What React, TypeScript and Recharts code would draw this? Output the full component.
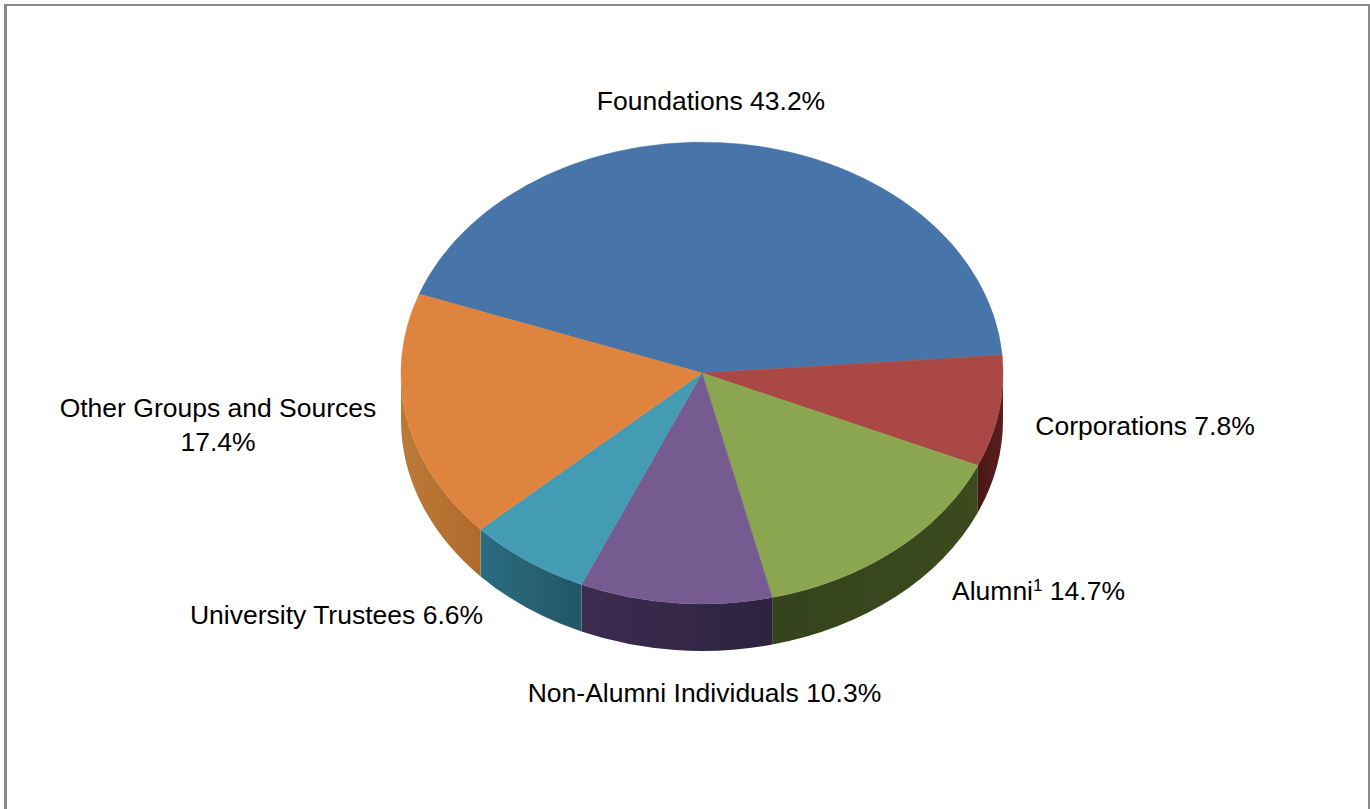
import { PieChart, Pie, Cell } from "recharts";

const sources = ["Foundations", "Corporations", "Alumni", "Non-Alumni Individuals", "University Trustees", "Other Groups and Sources"];
const shares = [43.2, 7.8, 14.7, 10.3, 6.6, 17.4];
const topColors = ["#4775A9", "#AA4845", "#8BA650", "#765B91", "#449CB4", "#DE843E"];
const wallFrom = ["#2F4D70", "#4A1616", "#34431B", "#3C2C50", "#2A6C80", "#BC7A37"];
const wallTo = ["#2F4D70", "#5A1F1D", "#3C4A1E", "#2D2340", "#235666", "#AE6A2C"];

const data = sources.map((name, i) => ({ name, share: shares[i] }));

const TILT = 0.767;
const DEPTH = 47;
const CX = 702;
const CY = 373;

// x of the text anchor, y of the first baseline, one entry per slice
const labelSpots = [
  { x: 711, y: 110 },
  { x: 1145, y: 435 },
  { x: 1038.5, y: 600 },
  { x: 704.5, y: 702 },
  { x: 336.5, y: 624 },
  { x: 218, y: 417 },
];

const rad = (deg: number) => (deg * Math.PI) / 180;

const SliceShape = (props: any) => {
  const { cx, cy, outerRadius: r, startAngle, endAngle, fill, index } = props;
  const hi = Math.max(startAngle, endAngle);
  const lo = Math.min(startAngle, endAngle);
  const pt = (a: number, dy = 0) => [cx + r * Math.cos(rad(a)), cy - r * TILT * Math.sin(rad(a)) + dy];
  const ry = r * TILT;
  const [sx, sy] = pt(hi);
  const [ex, ey] = pt(lo);
  const large = hi - lo > 180 ? 1 : 0;
  const top = `M${cx},${cy} L${sx},${sy} A${r},${ry} 0 ${large} 1 ${ex},${ey} Z`;

  // only the part of the rim facing the viewer has a visible wall
  let wall = null;
  const wHi = Math.min(hi, 0);
  const wLo = Math.max(lo, -180);
  if (wHi > wLo) {
    const [ax, ay] = pt(wHi);
    const [bx, by] = pt(wLo);
    wall = (
      <path
        d={`M${ax},${ay} A${r},${ry} 0 0 1 ${bx},${by} L${bx},${by + DEPTH} A${r},${ry} 0 0 0 ${ax},${ay + DEPTH} Z`}
        fill={`url(#wall${index})`}
      />
    );
  }
  return (
    <g>
      {wall}
      <path d={top} fill={fill} stroke={fill} strokeWidth={0.5} />
    </g>
  );
};

const renderLabel = (props: any) => {
  const { index } = props;
  const spot = labelSpots[index];
  const name = sources[index];
  const share = `${shares[index].toFixed(1)}%`;
  const common = { fill: "#000", fontSize: 26.5, fontFamily: "'Liberation Sans', Arial, sans-serif", textAnchor: "middle" as const };
  if (name === "Alumni") {
    return (
      <text key={index} x={spot.x} y={spot.y} {...common}>
        {name}
        <tspan fontSize={17} dy={-9}>1</tspan>
        <tspan dy={9}> {share}</tspan>
      </text>
    );
  }
  if (name === "Other Groups and Sources") {
    return (
      <text key={index} x={spot.x} y={spot.y} {...common}>
        <tspan x={spot.x}>{name}</tspan>
        <tspan x={spot.x} dy={34}>{share}</tspan>
      </text>
    );
  }
  return (
    <text key={index} x={spot.x} y={spot.y} {...common}>
      {name} {share}
    </text>
  );
};

export default function App() {
  return (
    <div style={{ position: "absolute", left: 0, top: 0, width: 1370, height: 809, background: "#fff", overflow: "hidden" }}>
      <div
        style={{
          position: "absolute",
          left: 4,
          top: 4,
          width: 1366,
          height: 805,
          boxSizing: "border-box",
          borderTop: "2px solid #8a8a8a",
          borderLeft: "3px solid #8a8a8a",
          borderRight: "2px solid #8a8a8a",
        }}
      />
      <div style={{ position: "absolute", left: 0, top: 0 }}>
        <PieChart width={1370} height={809} margin={{ top: 0, right: 0, bottom: 0, left: 0 }}>
          <defs>
            {sources.map((name, i) => (
              <linearGradient key={name} id={`wall${i}`} x1="0" y1="0" x2="1" y2="0">
                <stop offset="0%" stopColor={wallFrom[i]} />
                <stop offset="100%" stopColor={wallTo[i]} />
              </linearGradient>
            ))}
          </defs>
          <Pie
            data={data}
            dataKey="share"
            nameKey="name"
            cx={CX}
            cy={CY}
            innerRadius={0}
            outerRadius={301}
            startAngle={160}
            endAngle={-200}
            paddingAngle={0}
            stroke="none"
            shape={SliceShape}
            label={renderLabel}
            labelLine={false}
            isAnimationActive={false}
          >
            {data.map((d, i) => (
              <Cell key={d.name} fill={topColors[i]} />
            ))}
          </Pie>
        </PieChart>
      </div>
    </div>
  );
}
